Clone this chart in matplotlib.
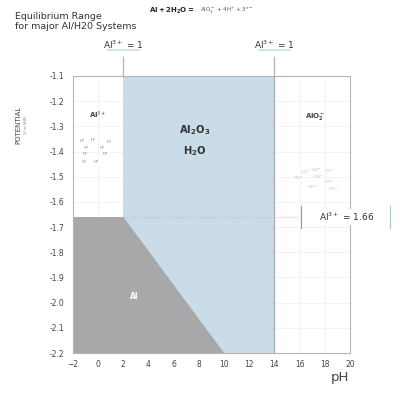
import matplotlib.pyplot as plt
from matplotlib.patches import Polygon, Rectangle

# data
ph_ticks = [-2, 0, 2, 4, 6, 8, 10, 12, 14, 16, 18, 20]
pot_ticks = [-1.1, -1.2, -1.3, -1.4, -1.5, -1.6, -1.7, -1.8, -1.9, -2.0, -2.1, -2.2]
al_boundary_ph = [-2, 2, 10, -2]
al_boundary_pot = [-1.66, -1.66, -2.2, -2.2]
oxide_ph = [2, 14]
al3_line = -1.66
h_ion_ph = [-1.28, -0.41, 0.86, -0.97, 0.31, -1.05, 0.54, -1.13, -0.17]
h_ion_pot = [-1.36, -1.356, -1.364, -1.386, -1.386, -1.412, -1.412, -1.44, -1.44]
oh_ion_ph = [16.44, 17.32, 18.35, 15.89, 17.48, 18.35, 17.0, 18.67]
oh_ion_pot = [-1.481, -1.473, -1.477, -1.505, -1.501, -1.52, -1.54, -1.548]

fig = plt.figure(figsize=(4, 3.95), dpi=100)
ax = fig.add_axes([0.1825, 0.1063, 0.6925, 0.7013])
ax.set_xlim(-2, 20)
ax.set_ylim(-2.2, -1.1)

# regions
ax.add_patch(Rectangle((oxide_ph[0], -2.2), oxide_ph[1] - oxide_ph[0], 1.1,
                       facecolor='#c9dce7', edgecolor='none', zorder=1))
ax.add_patch(Polygon(list(zip(al_boundary_ph, al_boundary_pot)), closed=True,
                     facecolor='#a8a8ab', edgecolor='none', zorder=2))

ax.set_xticks(ph_ticks)
ax.set_yticks(pot_ticks)
ax.set_yticklabels([f'{v:.1f}' for v in pot_ticks])
ax.tick_params(length=0, labelsize=5.5, colors='#444444')
ax.tick_params(axis='x', pad=5)
ax.tick_params(axis='y', pad=6)
ax.grid(color='#eef2f5', linewidth=0.6, zorder=0)
ax.set_axisbelow(True)
for s in ax.spines.values():
    s.set_color('#b5b5b5')
    s.set_linewidth(0.8)

# boundary lines
ax.plot([14, 14], [-2.2, -1.1], color='#aaaaaa', lw=0.9, zorder=3)
for x in oxide_ph:
    ax.plot([x, x], [-1.1, -1.025], color='#b5b5b5', lw=0.9, clip_on=False)
    ax.text(x, -0.975, r'Al$^{3+}$ = 1', ha='center', va='center',
            fontsize=6.5, color='#333333')
    ax.plot([x - 1.25, x + 1.25], [-0.995, -0.995], color='#c9dce7', lw=1.2,
            clip_on=False)

ax.plot([2, 16], [al3_line, al3_line], color='#bbbbbb', lw=0.8, ls=':', zorder=3)
ax.plot([16.1, 16.1], [-1.615, -1.705], color='#999999', lw=0.8, clip_on=False, zorder=4)
ax.plot([23.2, 23.2], [-1.615, -1.705], color='#a9c3d3', lw=0.8, clip_on=False)
ax.text(19.7, -1.66, r'Al$^{3+}$ = 1.66', ha='center', va='center',
        fontsize=6.5, color='#333333', zorder=5,
        bbox=dict(facecolor='white', edgecolor='none', pad=1.5))

# region labels
ax.text(0, -1.255, r'Al$^{3+}$', ha='center', va='center', fontsize=5,
        fontweight='bold', color='#444444')
for x, y in zip(h_ion_ph, h_ion_pot):
    ax.text(x, y, r'H$^{+}$', ha='center', va='center', fontsize=2.7, color='#777777')
ax.text(7.7, -1.315, r'$\mathbf{Al_2O_3}$', ha='center', va='center',
        fontsize=7.2, color='#333333')
ax.text(7.7, -1.4, r'$\mathbf{H_2O}$', ha='center', va='center',
        fontsize=7.2, color='#333333')
ax.text(17.2, -1.262, r'$\mathbf{AlO_2^-}$', ha='center', va='center',
        fontsize=5, color='#444444')
for x, y in zip(oh_ion_ph, oh_ion_pot):
    ax.text(x, y, r'OH$^{-}$', ha='center', va='center', fontsize=3, color='#b7c8d4')
ax.text(2.9, -1.977, 'Al', ha='center', va='center', fontsize=5.5,
        fontweight='bold', color='white', zorder=5)

# titles and axis labels
fig.text(0.037, 0.97, 'Equilibrium Range\nfor major Al/H20 Systems',
         ha='left', va='top', fontsize=6.8, color='#333333', linespacing=1.2)
fig.text(0.372, 0.972, r'$\mathbf{Al + 2H_2O =}$', ha='left', va='center',
         fontsize=5, color='#222222')
fig.text(0.5, 0.972, r'AlO$_2^-$ + 4H$^{+}$ + 3$^{e-}$', ha='left', va='center',
         fontsize=4, color='#555555')
fig.text(0.045, 0.685, 'POTENTIAL', rotation=90, ha='center', va='center',
         fontsize=5, color='#444444')
fig.text(0.064, 0.685, '(V vs SHE)', rotation=90, ha='center', va='center',
         fontsize=2.5, color='#777777')
fig.text(0.85, 0.045, 'pH', ha='center', va='center', fontsize=9.5, color='#444444')

fig.savefig('out.png', dpi=100)
